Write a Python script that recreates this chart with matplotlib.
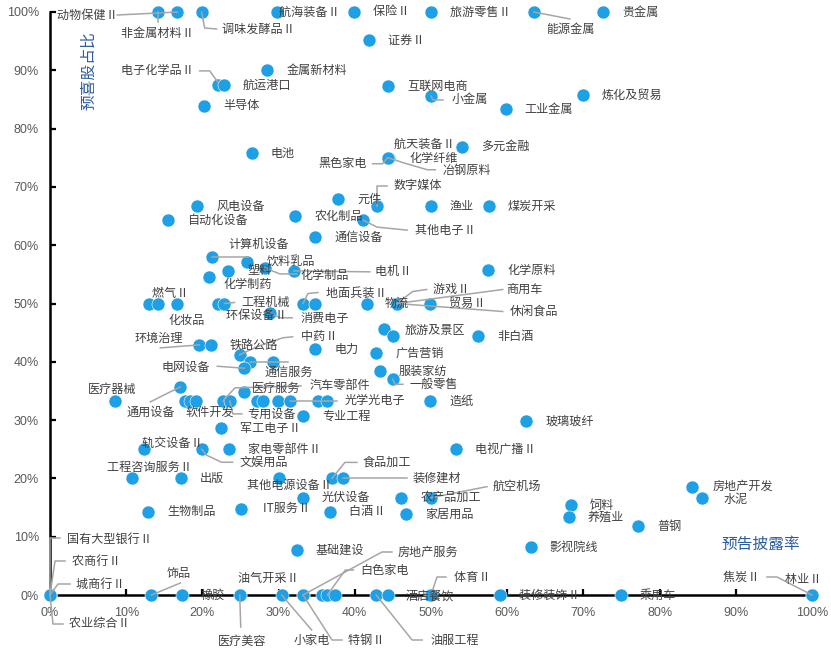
import matplotlib
matplotlib.use('Agg')
import matplotlib.pyplot as plt

plt.rcParams['font.family'] = ['Noto Sans CJK SC', 'DejaVu Sans']

# 行业: 预告披露率 (x, %) / 预喜股占比 (y, %)
names = ['非金属材料II', '动物保健II', '调味发酵品II', '航海装备II', '保险II', '旅游零售II', '能源金属', '贵金属',
         '证券II', '金属新材料', '电子化学品II', '航运港口', '半导体', '互联网电商', '小金属', '工业金属', '炼化及贸易',
         '电池', '多元金融', '黑色家电', '化学纤维', '冶钢原料', '航天装备II', '元件', '数字媒体', '渔业', '煤炭开采',
         '风电设备', '自动化设备', '农化制品', '其他电子II', '通信设备', '计算机设备', '饮料乳品', '塑料', '化学制品',
         '电机II', '化学制药', '化学原料', '', '燃气II', '化妆品', '环保设备II', '工程机械', '消费电子', '地面兵装II',
         '', '', '物流', '游戏II', '商用车', '休闲食品', '贸易II', '旅游及景区', '', '非白酒', '环境治理', '',
         '电力', '广告营销', '中药II', '铁路公路', '通信服务', '电网设备', '服装家纺', '一般零售', '通用设备', '医疗服务',
         '医疗器械', '', '软件开发', '', '汽车零部件', '专用设备', '', '', '', '光学光电子', '', '', '造纸', '专业工程',
         '玻璃玻纤', '军工电子II', '轨交设备II', '文娱用品', '家电零部件II', '电视广播II', '工程咨询服务II', '出版',
         '其他电源设备II', '食品加工', '装修建材', '房地产开发', '光伏设备', '农产品加工', '航空机场', '水泥', '饲料',
         'IT服务II', '生物制品', '白酒II', '家居用品', '养殖业', '普钢', '影视院线', '基础建设',
         '国有大型银行II', '农商行II', '城商行II', '农业综合II', '饰品', '橡胶', '油气开采II', '医疗美容', '小家电',
         '房地产服务', '特钢II', '', '白色家电', '', '油服工程', '', '酒店餐饮', '体育II', '装修装饰II', '乘用车',
         '焦炭II', '林业II']
x_pct = [14.2, 16.7, 19.9, 29.8, 39.9, 50.0, 63.5, 72.6,
         41.9, 28.5, 22.0, 22.8, 20.2, 44.4, 50.0, 59.8, 69.9,
         26.5, 54.1, 44.3, 44.5, 44.4, 44.4, 37.8, 42.9, 50.0, 57.6,
         19.3, 15.5, 32.2, 41.1, 34.8, 21.3, 25.9, 23.4, 28.2,
         32.0, 20.9, 57.5, 13.0, 14.2, 16.7, 22.0, 22.9, 28.9, 33.2,
         34.8, 41.6, 45.5, 45.5, 45.5, 45.5, 49.9, 43.8, 45.0, 56.2, 19.6, 21.1,
         34.8, 42.8, 24.9, 26.2, 29.3, 25.5, 43.3, 45.0, 17.1, 25.5,
         8.5, 17.7, 18.4, 19.2, 22.7, 23.6, 27.2, 28.0, 29.9, 31.5, 35.2, 36.4, 49.9, 33.2,
         62.5, 22.5, 12.3, 19.9, 23.5, 53.3, 10.8, 17.2,
         30.1, 37.0, 38.4, 84.3, 33.2, 46.1, 50.0, 85.6, 68.4,
         25.1, 12.9, 36.7, 46.7, 68.1, 77.2, 63.1, 32.4,
         0, 0, 0, 0, 13.3, 17.3, 24.9, 24.9, 30.4,
         33.2, 33.2, 35.7, 36.4, 37.4, 42.8, 44.4, 49.9, 50.0, 59.0, 74.9,
         100, 100]
y_pct = [100, 100, 100, 100, 100, 100, 100, 100,
         95.2, 90.0, 87.5, 87.5, 83.9, 87.3, 85.6, 83.3, 85.7,
         75.8, 76.9, 75.0, 75.0, 75.0, 75.0, 67.9, 66.7, 66.7, 66.7,
         66.7, 64.3, 65.0, 64.3, 61.4, 58.0, 57.1, 55.6, 56.1,
         55.6, 54.5, 55.7, 50.0, 50.0, 50.0, 50.0, 50.0, 48.4, 50.0,
         50.0, 50.0, 50.0, 50.0, 50.0, 50.0, 50.0, 45.6, 44.4, 44.4, 42.9, 42.9,
         42.2, 41.5, 41.2, 40.0, 40.0, 38.9, 38.4, 37.0, 35.7, 34.8,
         33.3, 33.3, 33.3, 33.3, 33.3, 33.3, 33.3, 33.3, 33.3, 33.3, 33.3, 33.3, 33.3, 30.7,
         29.8, 28.6, 25.0, 25.0, 25.0, 25.0, 20.0, 20.0,
         20.0, 20.0, 20.0, 18.5, 16.7, 16.7, 16.7, 16.7, 15.4,
         14.8, 14.3, 14.3, 13.9, 13.3, 11.8, 8.2, 7.7,
         0, 0, 0, 0, 0, 0, 0, 0, 0,
         0, 0, 0, 0, 0, 0, 0, 0, 0, 0, 0,
         0, 0]

ticks = [0, 10, 20, 30, 40, 50, 60, 70, 80, 90, 100]

# label placement in screen pixels from the dot (dx right, dy down), alignment, leader path
layout = {
    '非金属材料II': (-2, 21, 'center', [(0, 0), (0, 10)]),
    '动物保健II': (-62, 3, 'right', [(0, 0), (-19, 1), (-60, 3)]),
    '调味发酵品II': (20, 17, 'left', [(0, 0), (3, 16), (15, 17)]),
    '航海装备II': (2, 0, 'left', None),
    '能源金属': (37, 17, 'center', [(0, 0), (36, 7)]),
    '电子化学品II': (-26, -14, 'right', [(0, -3), (-8, -14), (-18, -14)]),
    '小金属': (21, 4, 'left', [(0, 0), (2, 4), (12, 4)]),
    '航天装备II': (6, -13, 'left', None),
    '化学纤维': (20, 1, 'left', None),
    '黑色家电': (-21, 6, 'right', [(0, 0), (-5, 6), (-15, 6)]),
    '冶钢原料': (54, 13, 'left', [(0, 0), (15, 5), (39, 12), (47, 12)]),
    '数字媒体': (17, -21, 'left', [(0, 0), (0, -20), (10, -20)]),
    '其他电子II': (52, 10, 'left', [(0, 0), (14, 7), (44, 10)]),
    '计算机设备': (16, -12, 'left', [(0, 0), (36, 0)]),
    '化学制品': (36, 8, 'left', [(0, 0), (15, 6), (32, 6)]),
    '电机II': (81, 1, 'left', [(0, 0), (76, 1)]),
    '化学制药': (14, 7, 'left', None),
    '燃气II': (-6, -10, 'left', None),
    '化妆品': (-9, 17, 'left', None),
    '工程机械': (17, -1, 'left', [(0, 0), (10, -1)]),
    '环保设备II': (8, 12, 'left', None),
    '消费电子': (30, 6, 'left', [(0, 0), (10, 5), (22, 5)]),
    '地面兵装II': (23, -10, 'left', [(0, 0), (5, -10), (15, -11)]),
    '物流': (0, 0, 'center', None),
    '游戏II': (36, -14, 'left', [(0, 0), (16, -12), (30, -14)]),
    '商用车': (110, -14, 'left', [(0, 0), (106, -14)]),
    '休闲食品': (113, 8, 'left', [(0, 0), (106, 8)]),
    '旅游及景区': (21, 1, 'left', None),
    '环境治理': (-16, -7, 'right', [(0, 0), (-39, 3)]),
    '中药II': (61, -18, 'left', [(0, 0), (17, -8), (43, -17), (53, -18)]),
    '铁路公路': (4, -16, 'center', [(0, 0), (38, 0)]),
    '通信服务': (15, 11, 'center', None),
    '电网设备': (-34, -1, 'right', [(0, 0), (-14, -1), (-27, -2)]),
    '一般零售': (17, 5, 'left', [(0, 0), (2, 5), (10, 5)]),
    '医疗器械': (-3, -11, 'center', None),
    '通用设备': (-30, 25, 'center', [(0, 0), (-30, 15)]),
    '软件开发': (-5, 11, 'left', None),
    '汽车零部件': (87, -15, 'left', [(0, 0), (12, -13), (78, -15)]),
    '专用设备': (17, 13, 'left', [(0, 0), (3, 13), (12, 13)]),
    '医疗服务': (8, -4, 'left', None),
    '光学光电子': (55, 0, 'left', [(0, 0), (47, 0)]),
    '轨交设备II': (-2, -6, 'left', None),
    '文娱用品': (38, 13, 'left', [(0, 0), (5, 6), (20, 13), (31, 13)]),
    '工程咨询服务II': (16, -11, 'center', None),
    '其他电源设备II': (-32, 7, 'left', None),
    '食品加工': (31, -16, 'left', [(0, 0), (13, -16), (25, -16)]),
    '装修建材': (70, 0, 'left', [(0, 0), (64, 0)]),
    '航空机场': (62, -11, 'left', [(0, 0), (56, -11)]),
    'IT服务II': (22, 0, 'left', None),
    '房地产开发': (20, -1, 'left', None),
    '水泥': (21, 2, 'left', None),
    '国有大型银行II': (17, -56, 'left', [(0, 0), (0, -57), (10, -57)]),
    '农商行II': (22, -34, 'left', [(0, 0), (5, -34), (15, -34)]),
    '城商行II': (26, -11, 'left', [(0, 0), (8, -11), (20, -11)]),
    '农业综合II': (19, 29, 'left', [(0, 0), (3, 29), (13, 29)]),
    '饰品': (27, -22, 'center', [(0, 0), (29, -12)]),
    '油气开采II': (-2, -17, 'left', None),
    '医疗美容': (2, 46, 'center', [(0, 0), (1, 32)]),
    '小家电': (30, 45, 'center', [(0, 0), (30, 35)]),
    '特钢II': (45, 45, 'left', [(0, 0), (29, 45), (39, 45)]),
    '房地产服务': (95, -43, 'left', [(0, 0), (79, -43), (89, -43)]),
    '白色家电': (33, -25, 'left', [(0, 0), (18, -25), (26, -25)]),
    '油服工程': (54, 45, 'left', [(0, 0), (36, 45), (46, 45)]),
    '酒店餐饮': (0, 1, 'center', None),
    '体育II': (23, -18, 'left', [(0, 0), (6, -18), (15, -18)]),
    '焦炭II': (-55, -18, 'right', [(0, 0), (-35, -18), (-45, -18)]),
    '林业II': (-10, -15, 'center', None),
}

fig = plt.figure(figsize=(8.31, 6.55), dpi=100)
ax = fig.add_axes([50 / 831, 60 / 655, 762 / 831, 583 / 655])
ax.set_xlim(0, 100)
ax.set_ylim(0, 100)

kx = 762 / 100
ky = 583 / 100

ax.scatter(x_pct, y_pct, s=88, color='#1EA0E6', edgecolors='white', linewidths=0.4,
           zorder=3, clip_on=False)

for name, x, y in zip(names, x_pct, y_pct):
    if not name:
        continue
    dx, dy, ha, leader = layout.get(name, (19, 0, 'left', None))
    if leader:
        lx = [x + p[0] / kx for p in leader]
        ly = [y - p[1] / ky for p in leader]
        ax.plot(lx, ly, color='#A6A6A6', lw=1.1, zorder=4, clip_on=False)
    ax.annotate(name.replace('II', ' II'), (x, y), xytext=(dx, -dy), textcoords='offset pixels',
                ha=ha, va='center', fontsize=8.7, color='#404040', zorder=5,
                annotation_clip=False)

for s in ['top', 'right']:
    ax.spines[s].set_visible(False)
for s in ['left', 'bottom']:
    ax.spines[s].set_linewidth(1.8)
    ax.spines[s].set_color('black')

ax.set_xticks(ticks)
ax.set_yticks(ticks)
ax.set_xticklabels([f'{t}%' for t in ticks])
ax.set_yticklabels([f'{t}%' for t in ticks])
ax.tick_params(direction='in', length=4.5, width=1.6, colors='black', labelcolor='#595959',
               labelsize=9)
ax.tick_params(axis='x', pad=9)
ax.tick_params(axis='y', pad=8)
for lab in ax.get_xticklabels() + ax.get_yticklabels():
    lab.set_fontfamily(['Liberation Sans', 'DejaVu Sans'])

fig.text(89 / 831, 1 - 71 / 655, '预喜股占比', rotation=90, ha='center', va='center',
         fontsize=11.3, color='#2B5C9E')
fig.text(761 / 831, 1 - 544 / 655, '预告披露率', ha='center', va='center',
         fontsize=11.3, color='#2B5C9E')

fig.savefig('out.png', dpi=100)
